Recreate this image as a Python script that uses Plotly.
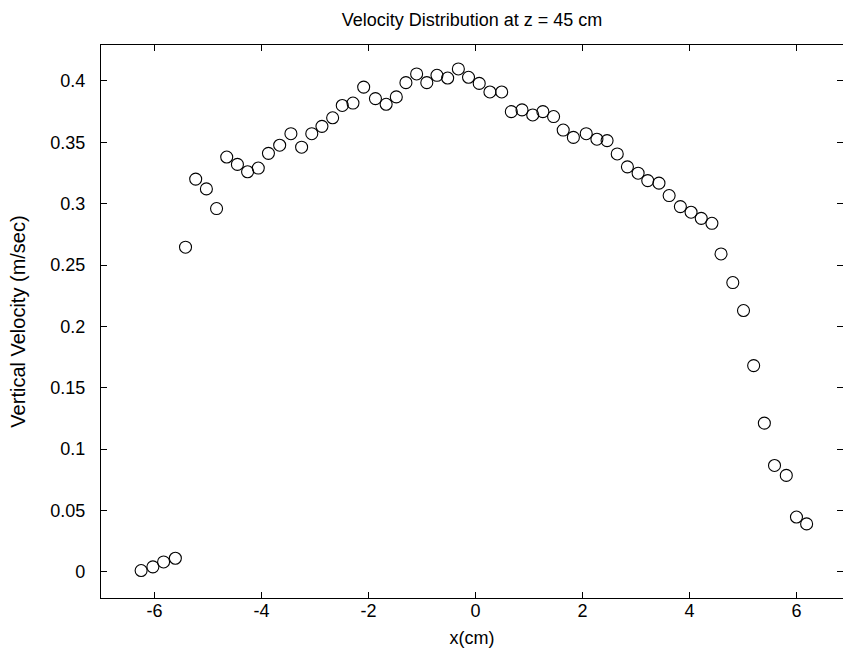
import plotly.graph_objects as go

x_cm = [-6.25, -6.03, -5.83, -5.61, -5.42, -5.23, -5.03, -4.84, -4.65, -4.45,
        -4.26, -4.06, -3.87, -3.66, -3.45, -3.25, -3.06, -2.87, -2.67, -2.49,
        -2.29, -2.09, -1.87, -1.67, -1.48, -1.30, -1.10, -0.91, -0.72, -0.52,
        -0.32, -0.13, 0.07, 0.27, 0.49, 0.67, 0.87, 1.07, 1.26, 1.46,
        1.64, 1.83, 2.07, 2.27, 2.46, 2.65, 2.84, 3.04, 3.22, 3.43,
        3.62, 3.83, 4.03, 4.22, 4.42, 4.59, 4.81, 5.01, 5.20, 5.40,
        5.59, 5.81, 6.00, 6.19]

velocity = [0.001, 0.004, 0.008, 0.011, 0.2645, 0.320, 0.312, 0.296, 0.338, 0.332,
            0.326, 0.329, 0.341, 0.3476, 0.357, 0.346, 0.357, 0.363, 0.370, 0.380,
            0.382, 0.395, 0.3856, 0.381, 0.387, 0.3986, 0.4057, 0.3986, 0.4046, 0.4024,
            0.4098, 0.403, 0.398, 0.391, 0.391, 0.375, 0.3764, 0.3723, 0.375, 0.371,
            0.360, 0.354, 0.357, 0.3525, 0.3514, 0.3405, 0.330, 0.3248, 0.3188, 0.3167,
            0.3066, 0.2976, 0.293, 0.288, 0.284, 0.259, 0.2357, 0.2129, 0.168, 0.1211,
            0.0866, 0.0785, 0.0446, 0.039]

x_tick_vals = [-6, -4, -2, 0, 2, 4, 6]
x_tick_text = ["-6", "-4", "-2", "0", "2", "4", "6"]
y_tick_vals = [0, 0.05, 0.1, 0.15, 0.2, 0.25, 0.3, 0.35, 0.4]
y_tick_text = ["0", "0.05", "0.1", "0.15", "0.2", "0.25", "0.3", "0.35", "0.4"]

FONT = "Liberation Sans"
FS = 18
X_RANGE = [-7, 6.87]
Y_RANGE = [-0.0214, 0.4293]

fig = go.Figure()
fig.add_trace(go.Scatter(
    x=x_cm, y=velocity, mode="markers",
    marker=dict(symbol="circle-open", size=12, color="black",
                line=dict(width=1.1, color="black")),
    showlegend=False, hoverinfo="x+y",
))
# invisible copy tied to the right-hand tick axis (the frame's right edge lies off-page)
fig.add_trace(go.Scatter(
    x=x_cm, y=velocity, mode="markers", yaxis="y2",
    marker=dict(opacity=0), showlegend=False, hoverinfo="skip",
))

tick_style = dict(ticks="inside", ticklen=6, tickwidth=1.2, tickcolor="black",
                  tickfont=dict(family=FONT, size=FS, color="black"))

fig.update_layout(
    width=843, height=659,
    margin=dict(l=101, r=0, t=45, b=61),
    paper_bgcolor="white", plot_bgcolor="white",
    title=dict(text="Velocity Distribution at z = 45 cm",
               x=0.5, xref="paper", xanchor="center",
               y=1, yref="paper", yanchor="bottom", pad=dict(b=19),
               font=dict(family=FONT, size=FS, color="black")),
    xaxis=dict(range=X_RANGE, tickvals=x_tick_vals, ticktext=x_tick_text,
               showgrid=False, zeroline=False, showline=True, linecolor="black",
               linewidth=1.2, mirror="ticks", ticklabelstandoff=-4,
               title=dict(text="x(cm)", standoff=11,
                          font=dict(family=FONT, size=FS, color="black")),
               **tick_style),
    yaxis=dict(range=Y_RANGE, tickvals=y_tick_vals, ticktext=y_tick_text,
               showgrid=False, zeroline=False, showline=True, linecolor="black",
               linewidth=1.2, mirror=False, ticklabelstandoff=11,
               title=dict(text="Vertical Velocity (m/sec)", standoff=19,
                          font=dict(family=FONT, size=20, color="black")),
               **tick_style),
    yaxis2=dict(range=Y_RANGE, tickvals=y_tick_vals, overlaying="y", side="right",
                showgrid=False, zeroline=False, showline=False,
                showticklabels=False, ticks="inside", ticklen=6, tickwidth=1.2,
                tickcolor="black"),
)

# remove the default 8px page margin and scrollbars so the figure fills the window
fig.write_html(
    "out.html",
    config={"displayModeBar": False},
    post_script="document.body.style.margin='0';document.body.style.overflow='hidden';",
)
